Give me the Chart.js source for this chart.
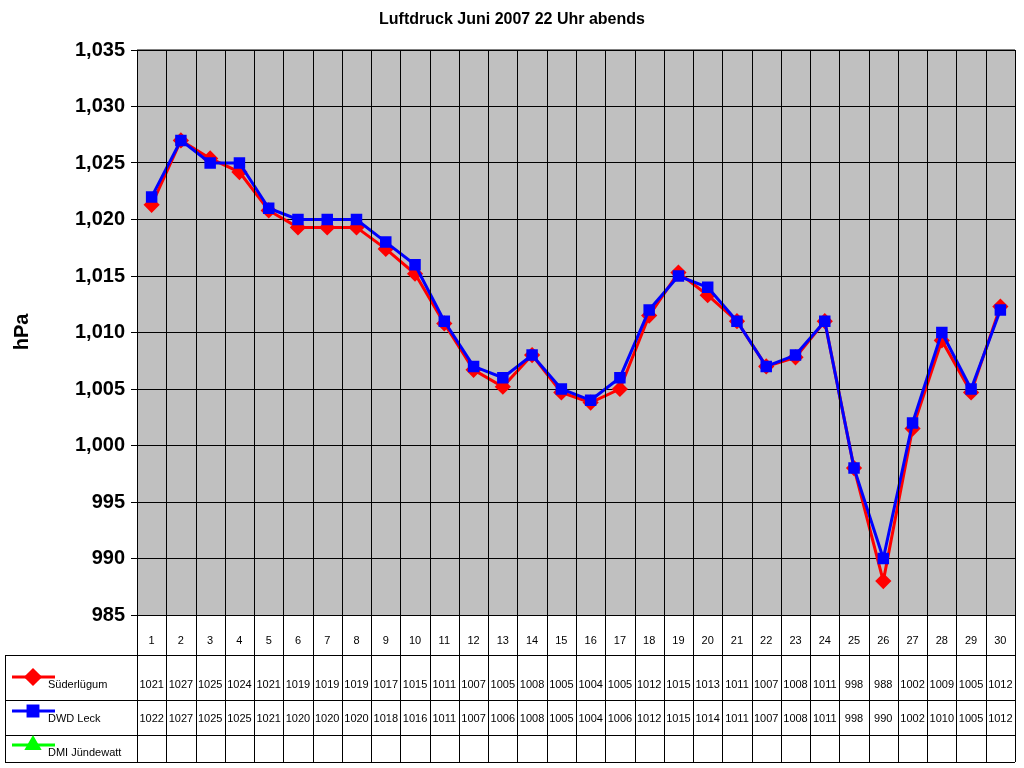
<!DOCTYPE html>
<html>
<head>
<meta charset="utf-8">
<script src="https://cdn.jsdelivr.net/npm/chart.js@4.4.0/dist/chart.umd.min.js"></script>
<style>
  body { margin: 0; background: #fff; }
  #wrap { width: 1024px; height: 768px; }
</style>
</head>
<body>
<div id="wrap"><canvas id="c"></canvas></div>
<script>
const days = [];
for (let d = 1; d <= 30; d++) days.push(String(d));

const suederluegum = [1021.3, 1027, 1025.4, 1024.2, 1020.8, 1019.3, 1019.3, 1019.3, 1017.4, 1015.2,
  1010.8, 1006.7, 1005.2, 1008, 1004.7, 1003.8, 1005, 1011.5, 1015.3, 1013.3,
  1011, 1007, 1007.8, 1011, 998, 988, 1001.5, 1009.3, 1004.7, 1012.3];
const dwdLeck = [1022, 1027, 1025, 1025, 1021, 1020, 1020, 1020, 1018, 1016,
  1011, 1007, 1006, 1008, 1005, 1004, 1006, 1012, 1015, 1014,
  1011, 1007, 1008, 1011, 998, 990, 1002, 1010, 1005, 1012];
const dmiJuendewatt = [];

const seriesRows = [
  { name: "Süderlügum", color: "#ff0000", style: "rectRot", values: suederluegum },
  { name: "DWD Leck", color: "#0000ff", style: "rect", values: dwdLeck },
  { name: "DMI Jündewatt", color: "#00ff00", style: "triangle", values: dmiJuendewatt }
];

const tablePlugin = {
  id: "table",
  beforeDraw(chart) {
    const { ctx, chartArea: a } = chart;
    ctx.save();
    ctx.fillStyle = "#c0c0c0";
    ctx.fillRect(a.left, a.top, a.right - a.left, a.bottom - a.top);
    ctx.restore();
  },
  afterDraw(chart) {
    const { ctx, chartArea: a } = chart;
    const x = chart.scales.x;
    const rows = [a.bottom, 655, 700, 735, 762];
    const step = (a.right - a.left) / days.length;
    ctx.save();
    ctx.strokeStyle = "#000";
    ctx.lineWidth = 1;
    ctx.beginPath();
    ctx.moveTo(a.left, a.top); ctx.lineTo(a.right, a.top);
    ctx.moveTo(a.left, rows[0] + 0.5); ctx.lineTo(a.right, rows[0] + 0.5);
    for (let i = 1; i < rows.length; i++) {
      ctx.moveTo(5, rows[i] + 0.5); ctx.lineTo(a.right, rows[i] + 0.5);
    }
    for (let i = 0; i <= days.length; i++) {
      const xx = Math.round(a.left + i * step) + 0.5;
      ctx.moveTo(xx, a.top); ctx.lineTo(xx, rows[4]);
    }
    ctx.moveTo(5.5, rows[1]); ctx.lineTo(5.5, rows[4]);
    ctx.stroke();

    // title and axis title
    ctx.fillStyle = "#000";
    ctx.textAlign = "center";
    ctx.textBaseline = "middle";
    ctx.font = "bold 16px Arial, 'Liberation Sans', sans-serif";
    ctx.fillText("Luftdruck Juni 2007 22 Uhr abends", 512, 20);
    ctx.save();
    ctx.translate(22, 332);
    ctx.rotate(-Math.PI / 2);
    ctx.font = "bold 20px Arial, 'Liberation Sans', sans-serif";
    ctx.fillText("hPa", 0, 0);
    ctx.restore();

    ctx.font = "11px Arial, 'Liberation Sans', sans-serif";
    days.forEach((d, i) => {
      ctx.fillText(d, x.getPixelForValue(i), 641);
    });
    const rowText = [685, 719, 753];
    seriesRows.forEach((s, r) => {
      const ly = rowText[r] - 8;
      ctx.strokeStyle = s.color;
      ctx.lineWidth = 3;
      ctx.beginPath(); ctx.moveTo(12, ly); ctx.lineTo(55, ly); ctx.stroke();
      Chart.helpers.drawPoint(ctx, { pointStyle: s.style, radius: 7, rotation: 0, borderWidth: 1 }, 33, ly);
      ctx.fillStyle = s.color;
      Chart.helpers.drawPoint(ctx, { pointStyle: s.style, radius: 7, rotation: 0, borderWidth: 0 }, 33, ly);
      ctx.fill();
      ctx.fillStyle = "#000";
      ctx.textAlign = "left";
      ctx.fillText(s.name, 48, rowText[r]);
      ctx.textAlign = "center";
      s.values.forEach((v, i) => {
        ctx.fillText(String(Math.round(v)), x.getPixelForValue(i), rowText[r]);
      });
    });
    ctx.restore();
  }
};

new Chart(document.getElementById("c"), {
  type: "line",
  data: {
    labels: days,
    datasets: seriesRows.slice().reverse().map(s => ({
      label: s.name,
      data: s.values,
      borderColor: s.color,
      backgroundColor: s.color,
      borderWidth: 3,
      pointStyle: s.style,
      pointRadius: 6,
      pointHoverRadius: 6,
      tension: 0
    }))
  },
  options: {
    responsive: true,
    maintainAspectRatio: false,
    animation: false,
    layout: { padding: { top: 50, right: 4, bottom: 153, left: 0 } },
    plugins: { legend: { display: false }, title: { display: false }, tooltip: { enabled: false } },
    scales: {
      x: { display: false, offset: true },
      y: {
        min: 985, max: 1035,
        afterFit: s => { s.width = 137; },
        border: { display: true, color: "#000" },
        grid: { color: "#000", drawTicks: true, tickLength: 6 },
        ticks: {
          stepSize: 5, color: "#000", padding: 6,
          font: { family: "Arial, 'Liberation Sans', sans-serif", size: 20, weight: "bold" }
        }
      }
    }
  },
  plugins: [tablePlugin]
});
</script>
</body>
</html>
